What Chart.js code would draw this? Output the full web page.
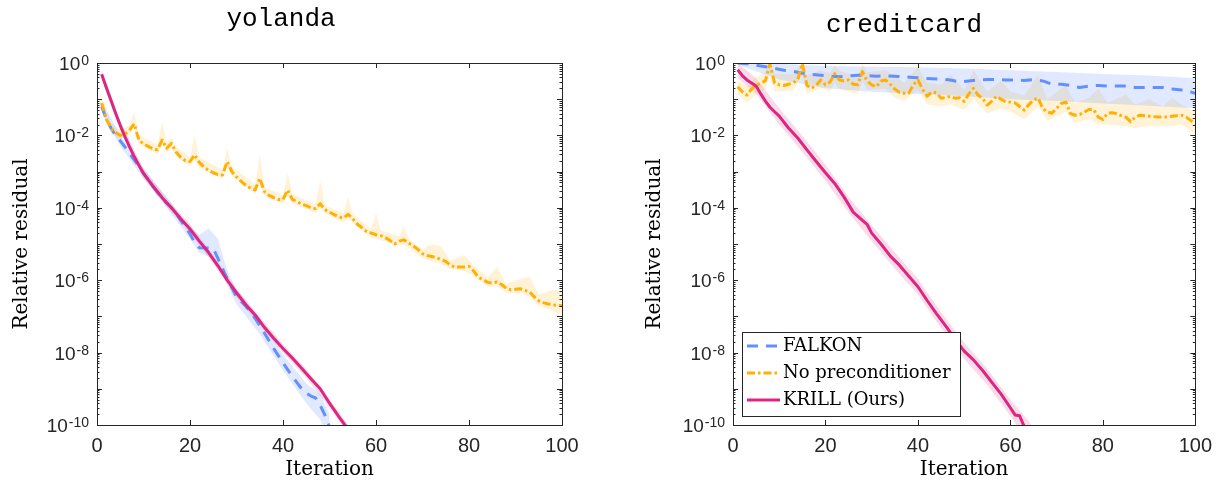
<!DOCTYPE html>
<html>
<head>
<meta charset="utf-8">
<title>Relative residual vs iteration</title>
<script src="https://cdn.jsdelivr.net/npm/chart.js@4.4.1/dist/chart.umd.min.js"></script>
<style>
  html, body { margin: 0; padding: 0; background: #fff; }
  .wrap { position: relative; width: 1221px; height: 486px; }
  canvas { position: absolute; top: 0; }
</style>
</head>
<body>
<div class="wrap">
  <canvas id="yolanda" width="610" height="486" style="left:0"></canvas>
  <canvas id="creditcard" width="611" height="486" style="left:610px"></canvas>
</div>
<script>
// ---- data ----
const iterations = Array.from({ length: 100 }, (_, i) => i + 1);
const xTickStep = 20;
const yLabelExponents = [0, -2, -4, -6, -8, -10];

// yolanda
const yolKrillIt = [1,2,3,4,5,6,7,8,9,10,11,12,13,14,16,18,20,22,24,26,28,30,32,34,36,38,40,42,44,46,48,50,52,54];
const yolKrill = [4.9e-1,2.1e-1,9.3e-2,4.1e-2,1.9e-2,9.3e-3,4.8e-3,2.6e-3,1.5e-3,8.9e-4,6.0e-4,4.0e-4,2.8e-4,1.9e-4,1.0e-4,5.0e-5,2.6e-5,1.2e-5,5.8e-6,2.5e-6,1.0e-6,4.5e-7,2.1e-7,1.1e-7,5.0e-8,2.5e-8,1.3e-8,7.1e-9,3.7e-9,1.9e-9,1.0e-9,4.0e-10,1.7e-10,7.6e-11];
const yolKrillBandIt = [1,5,10,15,20,25,30,35,40,45,50,54];
const yolKrillHi = [6.5e-1,2.5e-2,1.2e-3,1.8e-4,3.5e-5,5.0e-6,5.9e-7,9.8e-8,1.7e-8,3.5e-9,5.2e-10,1.0e-10];
const yolKrillLo = [3.7e-1,1.4e-2,6.8e-4,1.05e-4,2.0e-5,2.9e-6,3.4e-7,5.6e-8,1.0e-8,2.0e-9,3.0e-10,5.8e-11];

const yolFalkonIt = [1,2,3,4,5,6,7,8,9,10,11,12,14,16,17,18,20,21,22,25,26,28,30,32,34,36,38,40,42,44,45,46,47,48,49,50];
const yolFalkon = [6.3e-2,2.8e-2,1.6e-2,1.0e-2,7.1e-3,4.8e-3,3.2e-3,2.1e-3,1.4e-3,8.9e-4,6.0e-4,4.0e-4,1.8e-4,1.0e-4,7.1e-5,4.5e-5,1.9e-5,1.1e-5,7.9e-6,7.6e-6,4.0e-6,1.1e-6,3.5e-7,1.9e-7,8.9e-8,3.5e-8,1.3e-8,5.2e-9,2.2e-9,1.0e-9,7.6e-10,6.3e-10,5.6e-10,3.5e-10,1.9e-10,8.9e-11];
const yolFalkonBandIt = [1,5,10,15,20,22,24,26,28,30,35,40,45,48,50];
const yolFalkonHi = [8.9e-2,1.0e-2,1.26e-3,2.0e-4,2.8e-5,1.8e-5,2.7e-5,1.4e-5,1.8e-6,5.6e-7,8.9e-8,8.9e-9,1.4e-9,7.1e-10,2.0e-10];
const yolFalkonLo = [4.5e-2,5.0e-3,6.3e-4,1.0e-4,1.4e-5,5.6e-6,4.5e-6,2.8e-6,7.1e-7,2.2e-7,3.2e-8,3.2e-9,4.0e-10,1.4e-10,4.0e-11];

const yolNoPrec = [
  7.8e-2,2.8e-2,1.6e-2,1.2e-2,1.0e-2,1.07e-2,1.4e-2,2.1e-2,7.4e-3,5.8e-3,
  5.0e-3,4.3e-3,4.0e-3,7.4e-3,4.4e-3,6.0e-3,3.5e-3,2.5e-3,2.0e-3,1.9e-3,
  2.9e-3,1.8e-3,1.35e-3,1.07e-3,9.3e-4,8.3e-4,8.1e-4,1.9e-3,1.0e-3,7.1e-4,
  5.4e-4,4.2e-4,3.5e-4,3.1e-4,6.5e-4,2.8e-4,2.2e-4,1.9e-4,1.7e-4,1.7e-4,
  3.1e-4,1.7e-4,1.5e-4,1.26e-4,1.15e-4,1.0e-4,9.5e-5,1.3e-4,8.9e-5,7.6e-5,
  6.5e-5,5.6e-5,5.2e-5,6.6e-5,5.0e-5,3.5e-5,2.8e-5,2.2e-5,2.0e-5,1.8e-5,
  1.7e-5,1.5e-5,1.26e-5,1.0e-5,1.2e-5,1.3e-5,1.07e-5,8.9e-6,7.1e-6,5.4e-6,
  4.8e-6,4.5e-6,4.2e-6,3.7e-6,3.3e-6,2.6e-6,2.3e-6,2.3e-6,2.3e-6,2.4e-6,
  1.8e-6,1.2e-6,1.05e-6,8.7e-7,8.3e-7,8.9e-7,7.6e-7,6.0e-7,5.4e-7,5.6e-7,
  5.8e-7,5.2e-7,4.8e-7,3.5e-7,2.7e-7,2.4e-7,2.2e-7,2.1e-7,2.0e-7,2.0e-7];
const yolNoPrecBandIt = [1,3,5,7,8,9,13,14,15,16,17,20,21,22,27,28,29,34,35,36,40,41,42,47,48,49,53,54,55,59,60,61,65,66,67,70,72,74,76,79,81,84,86,88,91,93,95,98,100];
const yolNoPrecHi = [1.1e-1,2.2e-2,1.4e-2,1.9e-2,4.4e-2,1.05e-2,5.4e-3,2.4e-2,6.0e-3,8.9e-3,4.8e-3,2.5e-3,1.02e-2,2.5e-3,1.1e-3,4.4e-3,1.4e-3,4.2e-4,2.9e-3,3.8e-4,2.2e-4,8.9e-4,2.4e-4,1.26e-4,5.9e-4,1.2e-4,7.1e-5,2.0e-4,6.8e-5,2.6e-5,7.1e-5,2.4e-5,1.6e-5,3.0e-5,1.4e-5,7.1e-6,1.0e-5,8.5e-6,3.5e-6,5.0e-6,2.6e-6,1.2e-6,2.3e-6,7.9e-7,1.1e-6,1.26e-6,4.0e-7,5.4e-7,5.0e-7];
const yolNoPrecLo = [5.6e-2,1.1e-2,7.6e-3,1.05e-2,1.6e-2,5.6e-3,3.0e-3,5.6e-3,3.3e-3,4.5e-3,2.6e-3,1.4e-3,2.1e-3,1.3e-3,6.3e-4,1.4e-3,7.6e-4,2.4e-4,4.8e-4,2.1e-4,1.26e-4,2.2e-4,1.3e-4,7.2e-5,1.0e-4,6.8e-5,4.0e-5,5.0e-5,3.8e-5,1.5e-5,1.4e-5,1.26e-5,8.9e-6,9.5e-6,7.9e-6,4.0e-6,3.4e-6,2.8e-6,2.0e-6,1.8e-6,1.35e-6,6.6e-7,6.8e-7,4.5e-7,4.4e-7,3.5e-7,2.0e-7,1.4e-7,1.1e-7];

// creditcard
const ccKrillIt = [1,2,3,4,5,6,7,8,9,10,12,14,16,18,20,22,24,26,28,29,30,32,34,36,38,40,42,44,46,48,50,52,54,56,58,60,61,62,63];
const ccKrill = [6.5e-1,4.5e-1,3.4e-1,2.8e-1,2.3e-1,1.4e-1,8.9e-2,6.0e-2,4.5e-2,3.4e-2,1.6e-2,8.5e-3,4.0e-3,1.9e-3,9.3e-4,4.7e-4,2.0e-4,7.6e-5,4.5e-5,3.5e-5,2.0e-5,1.0e-5,4.7e-6,2.6e-6,1.3e-6,6.6e-7,2.75e-7,1.2e-7,5.5e-8,2.4e-8,1.1e-8,6.3e-9,3.2e-9,1.5e-9,7.1e-10,3.0e-10,1.9e-10,1.8e-10,8.9e-11];
const ccKrillBandIt = [1,5,10,15,20,25,30,35,40,45,50,55,60,64,66];
const ccKrillHi = [1.0,3.8e-1,5.6e-2,9.8e-3,1.55e-3,2.0e-4,3.3e-5,5.9e-6,1.1e-6,1.3e-7,1.9e-8,3.6e-9,5.0e-10,1.26e-10,5.0e-11];
const ccKrillLo = [3.9e-1,1.4e-1,2.0e-2,3.5e-3,5.6e-4,7.4e-5,1.2e-5,2.1e-6,4.0e-7,4.8e-8,6.8e-9,1.3e-9,1.8e-10,3.0e-11,1.6e-11];

const ccFalkonIt = [1,3,5,7,9,11,13,15,17,19,21,23,25,27,29,31,33,35,37,39,41,43,45,47,49,51,53,55,57,59,61,63,65,67,69,71,73,75,77,79,81,83,85,87,89,91,93,95,97,99,100];
const ccFalkon = [1.0,9.5e-1,8.7e-1,7.9e-1,7.1e-1,6.3e-1,5.9e-1,5.2e-1,4.8e-1,4.6e-1,4.3e-1,4.2e-1,4.4e-1,4.6e-1,4.5e-1,4.3e-1,4.4e-1,4.3e-1,4.2e-1,4.0e-1,3.8e-1,3.7e-1,3.6e-1,3.4e-1,3.0e-1,3.2e-1,3.4e-1,3.5e-1,3.5e-1,3.4e-1,3.4e-1,3.3e-1,3.5e-1,3.2e-1,2.6e-1,2.6e-1,2.4e-1,2.1e-1,2.3e-1,2.4e-1,2.3e-1,2.3e-1,2.3e-1,2.1e-1,2.1e-1,2.1e-1,2.1e-1,1.9e-1,1.8e-1,1.6e-1,1.45e-1];
const ccFalkonBandIt = [1,10,20,30,40,50,60,70,80,90,100];
const ccFalkonHi = [1.0,9.5e-1,8.3e-1,7.9e-1,7.6e-1,7.1e-1,6.3e-1,5.6e-1,5.0e-1,4.5e-1,3.8e-1];
const ccFalkonLo = [8.9e-1,3.5e-1,2.0e-1,1.6e-1,1.4e-1,1.2e-1,1.0e-1,8.9e-2,7.6e-2,6.6e-2,5.6e-2];

const ccNoPrec = [
  2.2e-1,1.6e-1,1.3e-1,1.9e-1,2.4e-1,2.8e-1,3.2e-1,9.5e-1,2.8e-1,2.5e-1,
  2.4e-1,2.6e-1,2.8e-1,3.5e-1,9.5e-1,2.4e-1,2.0e-1,2.4e-1,3.4e-1,2.5e-1,
  3.0e-1,5.1e-1,3.4e-1,3.2e-1,3.4e-1,2.6e-1,2.5e-1,5.8e-1,3.2e-1,2.5e-1,
  2.2e-1,3.2e-1,3.4e-1,2.6e-1,1.9e-1,1.55e-1,1.45e-1,1.45e-1,2.5e-1,3.4e-1,
  1.9e-1,1.2e-1,1.6e-1,1.5e-1,1.07e-1,1.1e-1,1.2e-1,1.07e-1,1.1e-1,8.7e-2,
  1.4e-1,2.0e-1,1.3e-1,1.05e-1,6.9e-2,8.9e-2,1.2e-1,1.0e-1,8.5e-2,8.3e-2,
  7.9e-2,6.3e-2,5.0e-2,7.1e-2,9.5e-2,1.07e-1,5.6e-2,4.4e-2,4.1e-2,5.6e-2,
  7.6e-2,8.3e-2,4.0e-2,3.6e-2,3.8e-2,4.4e-2,5.2e-2,5.2e-2,3.2e-2,2.75e-2,
  4.1e-2,4.2e-2,4.0e-2,3.5e-2,3.2e-2,2.4e-2,3.2e-2,3.6e-2,3.5e-2,3.4e-2,
  3.3e-2,3.2e-2,3.2e-2,3.2e-2,3.4e-2,3.5e-2,3.6e-2,3.2e-2,2.6e-2,2.1e-2];
const ccNoPrecBandIt = [1,3,5,7,8,9,13,15,16,19,21,22,23,27,28,29,33,35,37,40,42,45,47,50,52,55,58,60,63,66,68,72,74,77,79,81,85,87,90,93,95,97,100];
const ccNoPrecHi = [3.5e-1,2.2e-1,4.0e-1,5.6e-1,1.0,5.0e-1,5.0e-1,1.0,4.5e-1,6.3e-1,5.2e-1,8.9e-1,6.0e-1,4.5e-1,1.0,5.6e-1,6.3e-1,4.5e-1,2.8e-1,7.9e-1,2.8e-1,2.5e-1,5.0e-1,1.8e-1,6.3e-1,1.6e-1,3.2e-1,1.6e-1,1.26e-1,4.7e-1,1.0e-1,2.5e-1,7.9e-2,1.1e-1,2.0e-1,7.9e-2,1.35e-1,7.1e-2,1.0e-1,6.3e-2,1.1e-1,7.1e-2,4.5e-2];
const ccNoPrecLo = [1.4e-1,7.9e-2,1.4e-1,1.9e-1,4.5e-1,1.6e-1,1.7e-1,5.0e-1,1.4e-1,2.0e-1,1.6e-1,2.8e-1,1.9e-1,1.4e-1,3.2e-1,1.8e-1,1.9e-1,1.1e-1,8.9e-2,1.8e-1,7.1e-2,6.3e-2,7.1e-2,5.0e-2,1.0e-1,4.0e-2,5.6e-2,4.5e-2,2.8e-2,6.3e-2,2.5e-2,4.5e-2,2.2e-2,2.8e-2,2.0e-2,2.0e-2,1.8e-2,1.6e-2,1.8e-2,1.8e-2,1.8e-2,2.0e-2,1.1e-2];

// ---- styling ----
const AXIS_COLOR = '#262626';
const STYLE = {
  'FALKON':            { color: '#648FFF', band: 'rgba(100,143,255,0.2)', dash: [11, 8], z: 2 },
  'No preconditioner': { color: '#FFB000', band: 'rgba(255,176,0,0.16)', dash: [8, 3, 2.5, 3], z: 1 },
  'KRILL (Ours)':      { color: '#DC267F', band: 'rgba(220,38,127,0.17)', dash: [], z: 0 }
};

const pts = (xs, ys) => xs.map((x, i) => ({ x: x, y: ys[i] }));

function panelDatasets(list) {
  const bands = [], lines = [];
  list.forEach(s => {
    const st = STYLE[s.label];
    bands.push({ label: s.label + ' lower', data: pts(s.bandIt, s.lo), borderWidth: 0, pointRadius: 0, fill: false, order: 10 });
    bands.push({ label: s.label + ' upper', data: pts(s.bandIt, s.hi), borderWidth: 0, pointRadius: 0,
                 fill: '-1', backgroundColor: st.band, order: 10 });
    lines.push({ label: s.label, data: pts(s.it, s.mean), borderColor: st.color, borderWidth: 3,
                 borderDash: st.dash, borderJoinStyle: 'round', pointRadius: 0, fill: false,
                 order: st.z, inLegend: true });
  });
  return bands.concat(lines);
}

function drawLegend(chart, ctx, a) {
  const items = chart.data.datasets.filter(d => d.inLegend);
  const left = a.left + 9, top = a.bottom - 93, w = 218, h = 84, rowH = 27;
  ctx.fillStyle = '#fff';
  ctx.fillRect(left, top, w, h);
  ctx.strokeStyle = AXIS_COLOR;
  ctx.lineWidth = 1;
  ctx.setLineDash([]);
  ctx.strokeRect(left + 0.5, top + 0.5, w, h);
  ctx.font = '18px "DejaVu Serif"';
  ctx.textAlign = 'left';
  ctx.textBaseline = 'middle';
  items.forEach((d, i) => {
    const cy = top + 14 + i * rowH;
    ctx.save();
    ctx.strokeStyle = d.borderColor;
    ctx.lineWidth = d.borderWidth;
    ctx.setLineDash(d.borderDash || []);
    ctx.beginPath();
    ctx.moveTo(left + 5, cy);
    ctx.lineTo(left + 38, cy);
    ctx.stroke();
    ctx.restore();
    ctx.fillStyle = '#000';
    ctx.fillText(d.label, left + 41, cy);
  });
}

// box, inward ticks and 10^k labels the way MATLAB draws them
const matlabAxes = {
  id: 'matlabAxes',
  afterDraw(chart, args, opts) {
    const { ctx, chartArea: a, scales: { x, y } } = chart;
    ctx.save();
    ctx.strokeStyle = AXIS_COLOR;
    ctx.lineWidth = 1;
    ctx.beginPath();
    x.ticks.forEach(t => {
      const px = Math.round(x.getPixelForValue(t.value)) + 0.5;
      ctx.moveTo(px, a.bottom); ctx.lineTo(px, a.bottom - 5);
      ctx.moveTo(px, a.top); ctx.lineTo(px, a.top + 5);
    });
    const eLo = Math.round(Math.log10(y.min)), eHi = Math.round(Math.log10(y.max));
    for (let e = eLo; e <= eHi; e++) {
      for (let m = 1; m < 10; m++) {
        const v = m * Math.pow(10, e);
        if (v > y.max * 1.0001) break;
        const py = Math.round(y.getPixelForValue(v)) + 0.5;
        const len = m === 1 ? 5 : 2.5;
        ctx.moveTo(a.left, py); ctx.lineTo(a.left + len, py);
        ctx.moveTo(a.right, py); ctx.lineTo(a.right - len, py);
      }
    }
    ctx.stroke();
    ctx.strokeRect(Math.round(a.left) + 0.5, Math.round(a.top) + 0.5,
                   Math.round(a.right - a.left), Math.round(a.bottom - a.top));

    ctx.fillStyle = AXIS_COLOR;
    ctx.textAlign = 'right';
    ctx.textBaseline = 'alphabetic';
    yLabelExponents.forEach(e => {
      const py = y.getPixelForValue(Math.pow(10, e));
      const exp = String(e);
      ctx.font = '14px "Liberation Sans"';
      const w = ctx.measureText(exp).width;
      ctx.fillText(exp, a.left - 8, py + 2);
      ctx.font = '19px "Liberation Sans"';
      ctx.fillText('10', a.left - 9 - w, py + 7);
    });
    if (opts.legend) drawLegend(chart, ctx, a);
    ctx.restore();
  }
};

function makePanel(id, title, series, geo) {
  return new Chart(document.getElementById(id), {
    type: 'line',
    data: { datasets: panelDatasets(series) },
    plugins: [matlabAxes],
    options: {
      responsive: false,
      animation: false,
      layout: { padding: { left: 0, right: geo.padRight, top: 0, bottom: 0 } },
      plugins: {
        legend: { display: false },
        tooltip: { enabled: false },
        title: {
          display: true, text: title, color: '#000',
          font: { family: '"Liberation Mono"', size: 26, weight: 'normal', lineHeight: 1.2 },
          padding: { top: geo.titleTop, bottom: 63 - 31.2 - geo.titleTop }
        },
        matlabAxes: { legend: geo.legend }
      },
      scales: {
        x: {
          type: 'linear', min: 0, max: 100,
          grid: { display: false, drawTicks: false },
          border: { display: false },
          ticks: { stepSize: xTickStep, padding: 9, color: AXIS_COLOR, font: { family: '"Liberation Sans"', size: 20 } },
          title: { display: true, text: 'Iteration', color: '#000', padding: { top: 0, bottom: 4 },
                   font: { family: '"DejaVu Serif"', size: 20, lineHeight: 1.2 } },
          afterFit: s => { s.height = 61; }
        },
        y: {
          type: 'logarithmic', min: 1e-10, max: 1,
          grid: { display: false, drawTicks: false },
          border: { display: false },
          ticks: { display: false },
          title: { display: true, text: 'Relative residual', color: '#000', padding: { top: geo.yTitlePad, bottom: 0 },
                   font: { family: '"DejaVu Serif"', size: 20, lineHeight: 1.2 } },
          afterFit: s => { s.width = geo.yWidth; }
        }
      }
    }
  });
}

makePanel('yolanda', 'yolanda', [
  { label: 'FALKON', it: yolFalkonIt, mean: yolFalkon, bandIt: yolFalkonBandIt, hi: yolFalkonHi, lo: yolFalkonLo },
  { label: 'No preconditioner', it: iterations, mean: yolNoPrec, bandIt: yolNoPrecBandIt, hi: yolNoPrecHi, lo: yolNoPrecLo },
  { label: 'KRILL (Ours)', it: yolKrillIt, mean: yolKrill, bandIt: yolKrillBandIt, hi: yolKrillHi, lo: yolKrillLo }
], { padRight: 48, yWidth: 97, yTitlePad: 10, titleTop: 4, legend: false });

makePanel('creditcard', 'creditcard', [
  { label: 'FALKON', it: ccFalkonIt, mean: ccFalkon, bandIt: ccFalkonBandIt, hi: ccFalkonHi, lo: ccFalkonLo },
  { label: 'No preconditioner', it: iterations, mean: ccNoPrec, bandIt: ccNoPrecBandIt, hi: ccNoPrecHi, lo: ccNoPrecLo },
  { label: 'KRILL (Ours)', it: ccKrillIt, mean: ccKrill, bandIt: ccKrillBandIt, hi: ccKrillHi, lo: ccKrillLo }
], { padRight: 23, yWidth: 123, yTitlePad: 33, titleTop: 10, legend: true });
</script>
</body>
</html>
